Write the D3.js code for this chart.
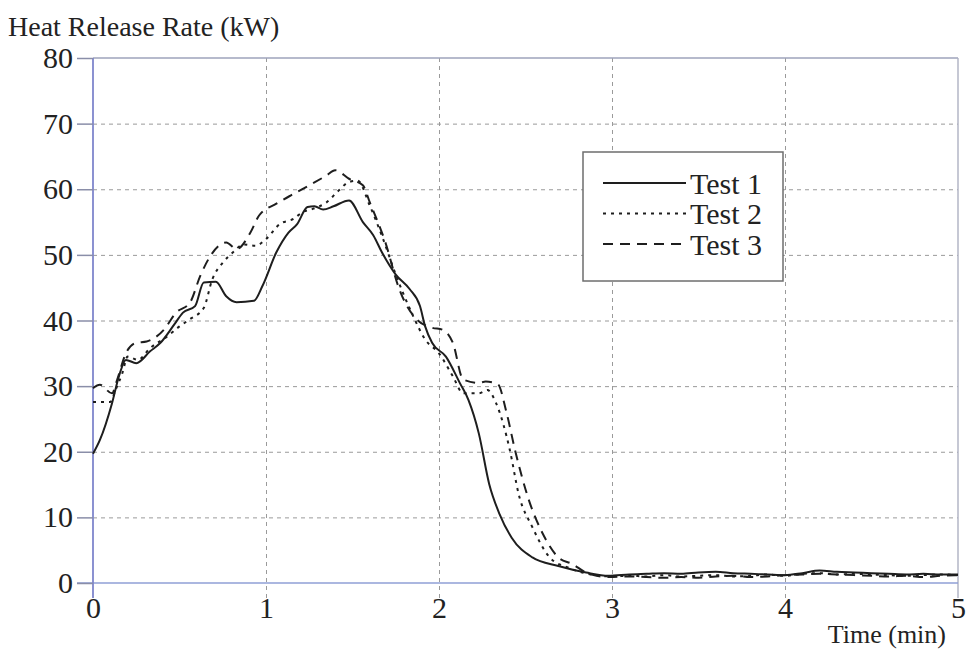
<!DOCTYPE html>
<html lang="en">
<head>
<meta charset="UTF-8">
<title>Heat Release Rate</title>
<style>
  body { margin: 0; background: #fff; }
  svg { display: block; font-family: "Liberation Serif", "Times New Roman", serif; }
  .grid line { stroke: #9a9a9a; stroke-dasharray: 4,4; stroke-width: 1; }
  .grid path { display: none; }
  .axis--y path, .axis--x path { display: none; }
  .axis--y line { stroke: #8a8ea8; stroke-width: 1.5; }
  .axis text { fill: #222; font-size: 30px; font-family: "Liberation Serif", serif; }
  .series { fill: none; stroke: #1e1e1e; stroke-width: 2; stroke-linejoin: round; }
</style>
</head>
<body>
<svg width="966" height="666"></svg>
<script src="https://cdnjs.cloudflare.com/ajax/libs/d3/7.8.5/d3.min.js"></script>
<script>

// time (min) and heat release rate (kW)
var time1 = [0, 0.04, 0.11, 0.15, 0.19, 0.25, 0.33, 0.39, 0.47, 0.52,
             0.59, 0.64, 0.71, 0.77, 0.83, 0.93, 0.98, 1.06, 1.13, 1.18,
             1.24, 1.28, 1.33, 1.39, 1.48, 1.56, 1.62, 1.67, 1.75, 1.83,
             1.89, 1.92, 1.96, 2.04, 2.12, 2.17, 2.23, 2.29, 2.35, 2.42,
             2.54, 2.69, 2.85, 2.98, 3.1, 3.2, 3.3, 3.4, 3.5, 3.6,
             3.7, 3.8, 3.9, 4.0, 4.1, 4.2, 4.3, 4.4, 4.5, 4.6,
             4.7, 4.8, 4.9, 5.0];
var test1 = [19.7, 21.8, 27.4, 31.5, 34.0, 33.5, 35.3, 36.6, 39.4, 41.2,
             42.2, 45.8, 45.9, 43.7, 42.8, 43.0, 45.3, 50.4, 53.4, 54.7,
             57.3, 57.4, 56.9, 57.4, 58.3, 55.0, 53.0, 50.4, 47.0, 44.8,
             42.2, 39.1, 36.6, 34.5, 30.5, 27.9, 22.8, 15.1, 10.5, 6.9,
             3.9, 2.6, 1.6, 1.1, 1.3, 1.4, 1.5, 1.4, 1.6, 1.7,
             1.5, 1.4, 1.3, 1.2, 1.5, 1.9, 1.7, 1.6, 1.5, 1.4,
             1.3, 1.4, 1.3, 1.3];

var time2 = [0, 0.1, 0.13, 0.17, 0.2, 0.26, 0.33, 0.43, 0.5, 0.56,
             0.64, 0.69, 0.75, 0.81, 0.87, 0.94, 1.0, 1.08, 1.16, 1.21,
             1.27, 1.35, 1.42, 1.48, 1.53, 1.6, 1.67, 1.75, 1.85, 1.92,
             2.0, 2.08, 2.14, 2.23, 2.28, 2.33, 2.41, 2.46, 2.54, 2.64,
             2.75, 2.88, 3.0, 3.1, 3.2, 3.3, 3.4, 3.5, 3.6, 3.7,
             3.8, 3.9, 4.0, 4.1, 4.2, 4.3, 4.4, 4.5, 4.6, 4.7,
             4.8, 4.9, 5.0];
var test2 = [27.6, 27.6, 29.4, 32.0, 34.5, 34.0, 35.8, 37.6, 39.1, 40.2,
             41.9, 46.3, 48.8, 50.4, 51.6, 51.4, 52.4, 54.7, 55.5, 56.5,
             57.0, 58.0, 59.8, 61.1, 61.3, 57.5, 52.9, 47.0, 40.7, 37.1,
             35.0, 31.5, 28.9, 28.9, 29.4, 27.4, 20.2, 13.6, 8.5, 3.9,
             2.3, 1.3, 1.0, 1.1, 1.0, 1.2, 1.0, 1.1, 1.2, 1.0,
             1.1, 1.3, 1.1, 1.4, 1.5, 1.3, 1.4, 1.3, 1.2, 1.1,
             1.2, 1.3, 1.2];

var time3 = [0, 0.04, 0.11, 0.14, 0.19, 0.25, 0.31, 0.41, 0.48, 0.56,
             0.62, 0.68, 0.77, 0.83, 0.91, 0.96, 1.06, 1.16, 1.25, 1.35,
             1.4, 1.48, 1.56, 1.6, 1.69, 1.77, 1.87, 1.96, 2.02, 2.08,
             2.14, 2.23, 2.27, 2.34, 2.39, 2.44, 2.52, 2.6, 2.69, 2.77,
             2.85, 2.98, 3.1, 3.2, 3.3, 3.4, 3.5, 3.6, 3.7, 3.8,
             3.9, 4.0, 4.1, 4.2, 4.3, 4.4, 4.5, 4.6, 4.7, 4.8,
             4.9, 5.0];
var test3 = [29.7, 30.2, 28.9, 31.0, 35.0, 36.6, 36.8, 38.6, 41.2, 42.7,
             46.8, 49.9, 51.9, 50.9, 53.4, 56.0, 57.8, 59.3, 60.6, 62.1,
             62.9, 61.6, 60.6, 58.0, 51.9, 44.8, 40.2, 38.9, 38.6, 36.6,
             31.0, 30.5, 30.7, 30.3, 26.0, 20.2, 12.6, 7.5, 3.9, 2.9,
             1.6, 0.9, 1.0, 0.9, 0.8, 0.9, 0.8, 1.0, 1.1, 0.9,
             1.0, 1.2, 1.3, 1.4, 1.3, 1.2, 1.1, 1.0, 1.1, 0.9,
             1.1, 1.2];

var xTicks = [0, 1, 2, 3, 4, 5];
var yTicks = [0, 10, 20, 30, 40, 50, 60, 70, 80];
var seriesNames = ["Test 1", "Test 2", "Test 3"];
var seriesDash = [null, "3,5", "10,7"];

var svg = d3.select("svg"),
    margin = {top: 58, right: 8, bottom: 83, left: 93},
    width = +svg.attr("width") - margin.left - margin.right,
    height = +svg.attr("height") - margin.top - margin.bottom;

var x = d3.scaleLinear().domain([0, 5]).range([0, width]),
    y = d3.scaleLinear().domain([0, 80]).range([height, 0]);

var g = svg.append("g")
    .attr("transform", "translate(" + margin.left + "," + margin.top + ")");

// grid
g.append("g")
    .attr("class", "grid")
    .call(d3.axisLeft(y).tickValues(yTicks.slice(1, -1)).tickSize(-width).tickFormat(""));

g.append("g")
    .attr("class", "grid")
    .attr("transform", "translate(0," + (height + 15) + ")")
    .call(d3.axisTop(x).tickValues(xTicks.slice(1, -1)).tickSize(height + 15).tickFormat(""));

// frame: top and right in grey-blue, left and bottom in blue
g.append("line").attr("x1", 0).attr("x2", width).attr("y1", 0).attr("y2", 0)
    .attr("stroke", "#9ea3bb").attr("stroke-width", 1.6);
g.append("line").attr("x1", width).attr("x2", width).attr("y1", 0).attr("y2", height + 15)
    .attr("stroke", "#aeb1c2").attr("stroke-width", 1.4);
g.append("line").attr("x1", -16).attr("x2", width).attr("y1", height).attr("y2", height)
    .attr("stroke", "#8f9fd6").attr("stroke-width", 1.6);
g.append("line").attr("x1", 0).attr("x2", 0).attr("y1", 0).attr("y2", height + 15)
    .attr("stroke", "#7f86cc").attr("stroke-width", 1.8);

// axes
g.append("g")
    .attr("class", "axis axis--y")
    .call(d3.axisLeft(y).tickValues(yTicks).tickSize(16).tickPadding(4));

g.append("g")
    .attr("class", "axis axis--x")
    .attr("transform", "translate(0," + height + ")")
    .call(d3.axisBottom(x).tickValues(xTicks).tickSize(0).tickPadding(11).tickFormat(d3.format("d")))
    .selectAll("text").attr("dy", "0.8em");

svg.append("text")
    .attr("x", 8).attr("y", 36)
    .attr("font-size", 28).attr("fill", "#222")
    .text("Heat Release Rate (kW)");

svg.append("text")
    .attr("x", 946).attr("y", 643)
    .attr("text-anchor", "end")
    .attr("font-size", 26).attr("fill", "#222")
    .text("Time (min)");

// lines
var line = d3.line()
    .x(function(d) { return x(d[0]); })
    .y(function(d) { return y(d[1]); })
    .curve(d3.curveMonotoneX);

var series = [d3.zip(time1, test1), d3.zip(time2, test2), d3.zip(time3, test3)];

g.selectAll(".series")
    .data(series)
    .enter().append("path")
    .attr("class", "series")
    .attr("stroke-dasharray", function(d, i) { return seriesDash[i]; })
    .attr("d", line);

// legend
var legend = svg.append("g").attr("transform", "translate(583,152)");
legend.append("rect")
    .attr("width", 200).attr("height", 129)
    .attr("fill", "#fff").attr("stroke", "#6e6e6e").attr("stroke-width", 1.5);

var item = legend.selectAll(".item")
    .data(seriesNames)
    .enter().append("g")
    .attr("class", "item")
    .attr("transform", function(d, i) { return "translate(0," + (31 + i * 30.5) + ")"; });

item.append("line")
    .attr("x1", 20).attr("x2", 103)
    .attr("stroke", "#1e1e1e").attr("stroke-width", 2)
    .attr("stroke-dasharray", function(d, i) { return seriesDash[i]; });

item.append("text")
    .attr("x", 107).attr("dy", "0.35em")
    .attr("font-size", 30).attr("fill", "#222")
    .text(function(d) { return d; });

</script>
</body>
</html>
